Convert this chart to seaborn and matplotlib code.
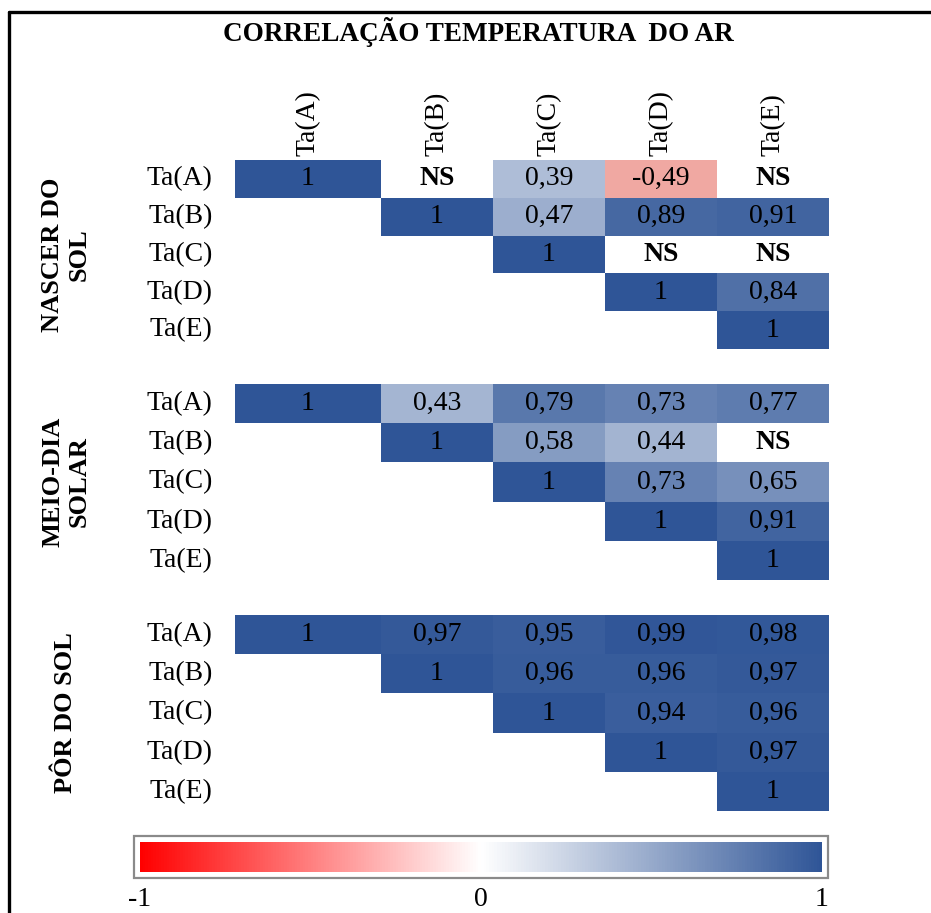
import numpy as np
import pandas as pd
import matplotlib
matplotlib.use("Agg")
import matplotlib.pyplot as plt
import seaborn as sns
from matplotlib.colors import LinearSegmentedColormap, Normalize
from matplotlib.cm import ScalarMappable
from matplotlib.patches import Rectangle
from matplotlib.lines import Line2D

# ---------------- data ----------------
title = "CORRELAÇÃO TEMPERATURA  DO AR"
variables = ["Ta(A)", "Ta(B)", "Ta(C)", "Ta(D)", "Ta(E)"]
periods = ["NASCER DO\nSOL", "MEIO-DIA\nSOLAR", "PÔR DO SOL"]
NS = "NS"
na = None
nascer = [[1, NS, 0.39, -0.49, NS],
          [na, 1, 0.47, 0.89, 0.91],
          [na, na, 1, NS, NS],
          [na, na, na, 1, 0.84],
          [na, na, na, na, 1]]
meio_dia = [[1, 0.43, 0.79, 0.73, 0.77],
            [na, 1, 0.58, 0.44, NS],
            [na, na, 1, 0.73, 0.65],
            [na, na, na, 1, 0.91],
            [na, na, na, na, 1]]
por_do_sol = [[1, 0.97, 0.95, 0.99, 0.98],
              [na, 1, 0.96, 0.96, 0.97],
              [na, na, 1, 0.94, 0.96],
              [na, na, na, 1, 0.97],
              [na, na, na, na, 1]]
cbar_ticks = [-1, 0, 1]
cbar_ticklabels = ["-1", "0", "1"]
blocks = [nascer, meio_dia, por_do_sol]

# ---------------- style ----------------
sns.set_style("white")
plt.rcParams["font.family"] = ["Liberation Serif", "DejaVu Serif"]
plt.rcParams["axes.unicode_minus"] = False
plt.rcParams["text.color"] = "black"
plt.rcParams["xtick.color"] = "black"
plt.rcParams["ytick.color"] = "black"
plt.rcParams["xtick.labelcolor"] = "black"
plt.rcParams["ytick.labelcolor"] = "black"
FS = 20

cell_cmap = LinearSegmentedColormap.from_list(
    "cells", [(0.0, "#E04D41"), (0.5, "#FFFFFF"), (1.0, "#2F5597")])
bar_cmap = LinearSegmentedColormap.from_list(
    "bar", [(0.0, "#FF0000"), (0.5, "#FFFFFF"), (1.0, "#2F5597")])

# first column is wider than the others
W0 = 146 / 112


def fwd(x):
    x = np.asarray(x, dtype=float)
    return np.where(x < 1, x * W0, x - 1 + W0)


def inv(y):
    y = np.asarray(y, dtype=float)
    return np.where(y < W0, y / W0, y - W0 + 1)


def fmt(v):
    if v is None or v == NS:
        return ""
    if float(v) == 1:
        return "1"
    return f"{v:.2f}".replace(".", ",")


W, H = 931, 913
fig = plt.figure(figsize=(W / 100, H / 100), dpi=100)
fig.patch.set_facecolor("white")

# block extents in pixels (top, bottom)
extents = [(160, 349), (384, 580), (615, 811)]
left_px, right_px = 235, 829

n = len(variables)
for bi, (block, (top, bot), label) in enumerate(zip(blocks, extents, periods)):
    ax = fig.add_axes([left_px / W, 1 - bot / H, (right_px - left_px) / W, (bot - top) / H])
    vals = pd.DataFrame(
        [[np.nan if (v is None or v == NS) else float(v) for v in row] for row in block],
        index=variables, columns=variables)
    annot = np.array([[fmt(v) for v in row] for row in block], dtype=object)
    sns.heatmap(vals, ax=ax, cmap=cell_cmap, vmin=-1, vmax=1, cbar=False,
                annot=annot, fmt="", linewidths=0,
                annot_kws=dict(color="black", fontsize=FS))
    # NS markers
    for i, row in enumerate(block):
        for j, v in enumerate(row):
            if v == NS:
                ax.text(j + 0.5, i + 0.5, "NS", ha="center", va="center",
                        fontsize=FS, fontweight="bold", color="black")
    ax.set_xscale("function", functions=(fwd, inv))
    ax.set_xlim(0, n)
    ax.set_ylim(n, 0)
    ax.set_xticks([j + 0.5 for j in range(n)])
    ax.set_yticks([i + 0.5 for i in range(n)])
    ax.set_yticklabels(variables, rotation=0, fontsize=FS)
    ax.tick_params(axis="y", length=0, pad=16)
    if bi == 0:
        ax.xaxis.tick_top()
        ax.set_xticklabels(variables, rotation=90, fontsize=FS)
        ax.tick_params(axis="x", length=0, pad=3, top=True, labeltop=True,
                       bottom=False, labelbottom=False)
    else:
        ax.set_xticklabels([])
        ax.tick_params(axis="x", length=0, bottom=False, labelbottom=False)
    ax.set_xlabel("")
    ax.set_ylabel("")
    for s in ax.spines.values():
        s.set_visible(False)
    fig.text(66 / W, 1 - ((top + bot) / 2) / H, label, rotation=90,
             ha="center", va="center", multialignment="center",
             fontsize=19, fontweight="bold", color="black")

# title
fig.text(478 / W, 1 - 32 / H, title, ha="center", va="center",
         fontsize=19.5, fontweight="bold", color="black")

# colour bar
cax = fig.add_axes([140 / W, 1 - 872 / H, 682 / W, 30 / H])
cb = fig.colorbar(ScalarMappable(norm=Normalize(-1, 1), cmap=bar_cmap), cax=cax,
                  orientation="horizontal", ticks=cbar_ticks)
cb.outline.set_visible(False)
cb.ax.set_xticklabels(cbar_ticklabels)
cax.tick_params(length=0, labelsize=FS, pad=11, colors="black")
fig.add_artist(Rectangle((134 / W, 1 - 878 / H), 694 / W, 42 / H,
                         transform=fig.transFigure, fill=False,
                         edgecolor="#8a8a8a", linewidth=1.6))

# outer frame (left and top edges visible)
fig.add_artist(Line2D([9 / W, 9 / W], [0, 1 - 12 / H], transform=fig.transFigure,
                      color="black", linewidth=2.4))
fig.add_artist(Line2D([9 / W, 1], [1 - 12 / H, 1 - 12 / H], transform=fig.transFigure,
                      color="black", linewidth=2.4))

fig.savefig("out.png", dpi=100)
